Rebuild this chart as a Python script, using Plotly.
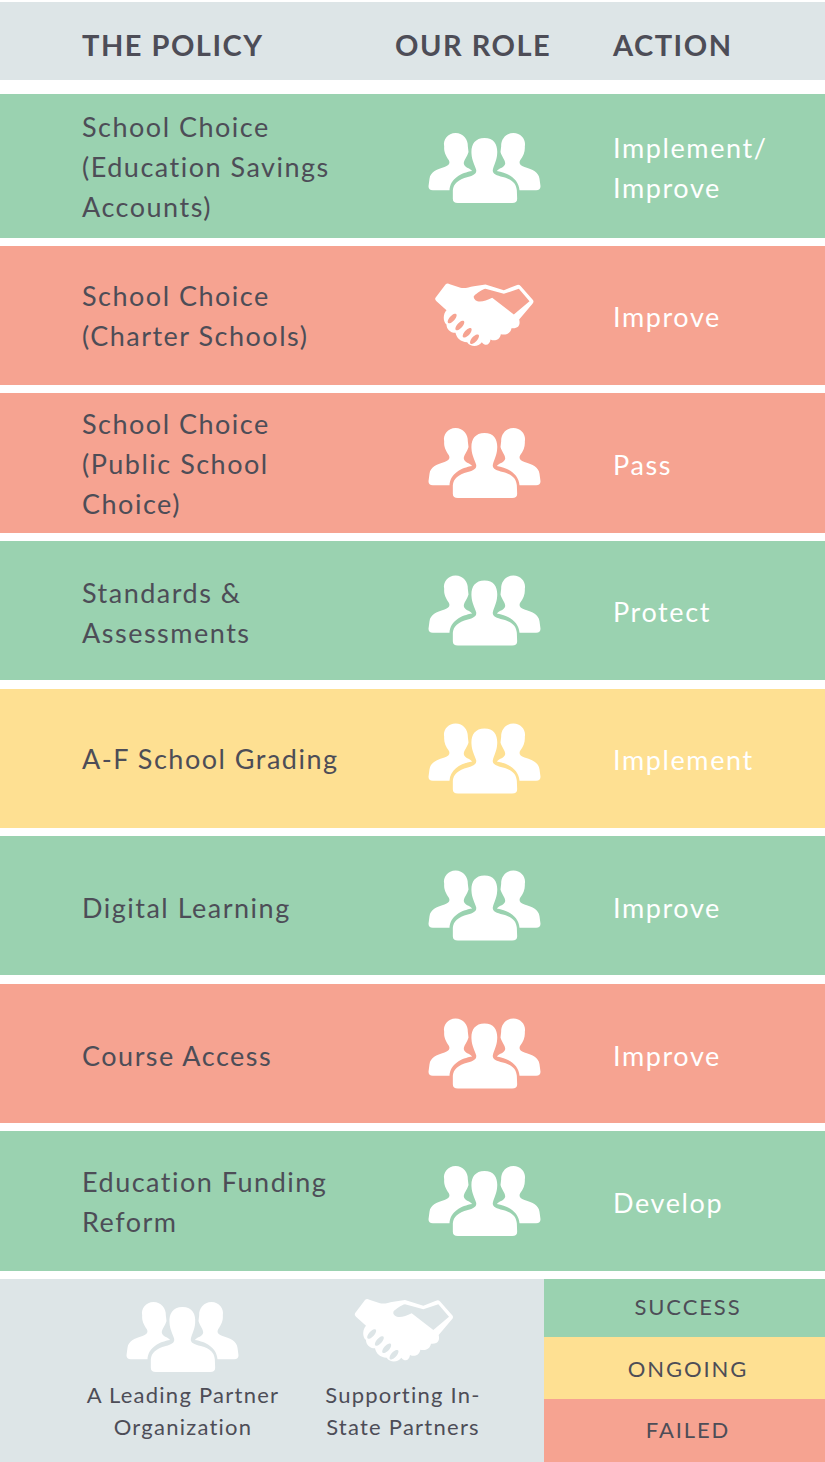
import math, re
import plotly.graph_objects as go

GREEN, RED, YELLOW, GRAY = "#9ad2b0", "#f6a391", "#fee092", "#dde5e7"
INK, WHITE = "#4d4d57", "#ffffff"
FONT = "Lato"

# table rows
row_tops = [94, 246, 393, 541, 689, 836, 984, 1131]
row_bottoms = [238, 385, 533, 680, 828, 975, 1123, 1271]
row_status = ["success", "failed", "failed", "success", "ongoing", "success", "failed", "success"]
policies = [
    ["School Choice", "(Education Savings", "Accounts)"],
    ["School Choice", "(Charter Schools)"],
    ["School Choice", "(Public School", "Choice)"],
    ["Standards &", "Assessments"],
    ["A-F School Grading"],
    ["Digital Learning"],
    ["Course Access"],
    ["Education Funding", "Reform"],
]
actions = [
    ["Implement/", "Improve"], ["Improve"], ["Pass"], ["Protect"],
    ["Implement"], ["Improve"], ["Improve"], ["Develop"],
]
roles = ["lead", "support", "lead", "lead", "lead", "lead", "lead", "lead"]
headers = ["THE POLICY", "OUR ROLE", "ACTION"]
header_x = [82, 395, 613]
legend_labels = ["SUCCESS", "ONGOING", "FAILED"]
legend_status = ["success", "ongoing", "failed"]
legend_tops = [1279, 1337, 1399]
legend_bottoms = [1337, 1399, 1462]
key_lines = [["A Leading Partner", "Organization"], ["Supporting In-", "State Partners"]]
key_x = [183, 403]
colors = {"success": GREEN, "failed": RED, "ongoing": YELLOW}

LINE = 40
policy_dy = [4, 4, 4, 6, 4, 6, 6, 4]
action_dy = [5, 5, 5, 5, 5, 6, 6, 5]


def lines_y(center, n, step=LINE):
    return [center + (i - (n - 1) / 2) * step for i in range(n)]


fig = go.Figure()

# Panels as bars on the pixel-scaled axes
row_centers = [(t + b) / 2 for t, b in zip(row_tops, row_bottoms)]
row_heights = [b - t for t, b in zip(row_tops, row_bottoms)]
panel_y = [41] + row_centers + [(1279 + 1462) / 2]
panel_h = [78] + row_heights + [183]
panel_x = [825] * 9 + [544]
panel_c = [GRAY] + [colors[s] for s in row_status] + [GRAY]
fig.add_trace(go.Bar(orientation="h", x=panel_x, y=panel_y, width=panel_h, base=0,
                     marker=dict(color=panel_c, line_width=0), hoverinfo="skip"))
leg_y = [(t + b) / 2 for t, b in zip(legend_tops, legend_bottoms)]
leg_h = [b - t for t, b in zip(legend_tops, legend_bottoms)]
fig.add_trace(go.Bar(orientation="h", x=[281] * 3, y=leg_y, width=leg_h, base=544,
                     marker=dict(color=[colors[s] for s in legend_status], line_width=0),
                     hoverinfo="skip"))


def text_trace(xs, ys, labels, color, size, pos, weight=400):
    fig.add_trace(go.Scatter(x=xs, y=ys, text=labels, mode="text", textposition=pos,
                             textfont=dict(family=FONT, size=size, color=color, weight=weight),
                             hoverinfo="skip"))


text_trace(header_x, [49] * 3, headers, INK, 29, "middle right", 700)
px, py, pt, ax, ay, at = [], [], [], [], [], []
for c, p, a, dp, da in zip(row_centers, policies, actions, policy_dy, action_dy):
    for y, t in zip(lines_y(c + dp, len(p)), p):
        px.append(82); py.append(y); pt.append(t)
    for y, t in zip(lines_y(c + da, len(a)), a):
        ax.append(613); ay.append(y); at.append(t)
text_trace(px, py, pt, INK, 27, "middle right")
text_trace(ax, ay, at, WHITE, 27, "middle right")
for x, lines in zip(key_x, key_lines):
    text_trace([x] * 2, [1397, 1429], lines, INK, 22, "middle center")
text_trace([688] * 3, [1309, 1371, 1432], legend_labels, INK, 22, "middle center")

# Icon outlines, drawn in 3x zoomed local units
CENTER = "M255 83 C285 83 295 105 293 130 C292 150 283 165 280 178 C278 190 290 195 310 200 C340 208 350 220 352 240 L353 265 Q353 278 338 278 L175 278 Q160 278 160 265 L160 240 C162 220 175 208 205 200 C222 195 232 190 230 178 C226 165 217 150 216 130 C214 105 225 83 255 83 Z"
SIDE = "M168 68 C192 68 206 88 205 108 L207 125 C203 140 192 150 193 160 C195 172 210 172 218 182 C185 187 152 205 150 240 L100 240 Q87 240 87 228 L90 205 C93 185 110 178 135 170 C150 165 152 158 148 150 C138 135 133 125 134 108 C130 88 145 68 168 68 Z"
HAND = ("M75 85 L105 45 Q110 40 118 44 L150 55 C165 58 175 52 190 50 L225 45 L280 62 L318 47 Q325 44 331 50 L366 90 Q372 96 366 103 L326 150 C330 165 325 178 303 176 "
        "C300 192 285 198 271 194 C268 212 252 216 240 210 C238 226 225 232 214 218 C205 232 180 234 170 218 "
        "C150 218 138 205 135 190 C118 190 108 178 108 165 C96 155 98 132 108 122 L78 95 Q72 90 75 85 Z "
        "M190 80 C200 70 215 60 225 58 L280 73 L325 58 L357 95 L310 135 L245 85 C225 95 205 100 195 92 Q188 86 190 80 Z")
FINGERS = [(125, 147), (148, 168), (170, 190), (192, 209)]


def ellipse(cx, cy, a=18, b=8, ang=-48):
    t = math.radians(ang)
    pts = []
    for i in range(24):
        u = 2 * math.pi * i / 24
        x, y = a * math.cos(u), b * math.sin(u)
        pts.append((cx + x * math.cos(t) - y * math.sin(t), cy + x * math.sin(t) + y * math.cos(t)))
    return "M" + " L".join(f"{x:.1f} {y:.1f}" for x, y in pts) + " Z"


def place(path, ox, oy, cx, cy, mirror=None):
    def sub(m):
        x, y = float(m.group(1)), float(m.group(2))
        if mirror is not None:
            x = 2 * mirror - x
        return f"{cx + (x - ox) / 3:.2f} {cy + (y - oy) / 3:.2f}"
    return re.sub(r"(-?[\d.]+) (-?[\d.]+)", sub, path)


def add_icon(kind, cx, cy):
    if kind == "lead":
        paths = [place(SIDE, 255, 173, cx, cy), place(SIDE, 255, 173, cx, cy, mirror=255),
                 place(CENTER, 255, 173, cx, cy)]
    else:
        full = HAND + " " + " ".join(ellipse(*f) for f in FINGERS)
        paths = [place(full, 222, 135, cx, cy)]
    for p in paths:
        fig.add_shape(type="path", path=p, xref="x", yref="y", fillcolor=WHITE,
                      line_width=0, layer="above")


icon_y_offset = [2, -1, 0, 0, 0, 0, 0, 0]
for kind, c, d in zip(roles, row_centers, icon_y_offset):
    add_icon(kind, 484.5, c + d)
add_icon("lead", 182.5, 1337)
add_icon("support", 404, 1330)

fig.update_layout(
    width=825, height=1462, margin=dict(l=0, r=0, t=0, b=0), showlegend=False,
    paper_bgcolor=WHITE, plot_bgcolor=WHITE, barmode="overlay",
    xaxis=dict(range=[0, 825], visible=False, fixedrange=True),
    yaxis=dict(range=[1462, 0], visible=False, fixedrange=True),
)

post = """
document.body.style.margin='0';
document.documentElement.style.overflow='hidden';
var spacing=[1.5,1.5,1.6,1.25,1.25,1.9];
document.querySelectorAll('.scatterlayer .trace').forEach(function(tr,i){
  tr.querySelectorAll('.textpoint text').forEach(function(t){
    t.style.letterSpacing=spacing[i]+'px';
  });
});
"""
fig.write_html("out.html", config={"displayModeBar": False, "staticPlot": True}, post_script=post)
